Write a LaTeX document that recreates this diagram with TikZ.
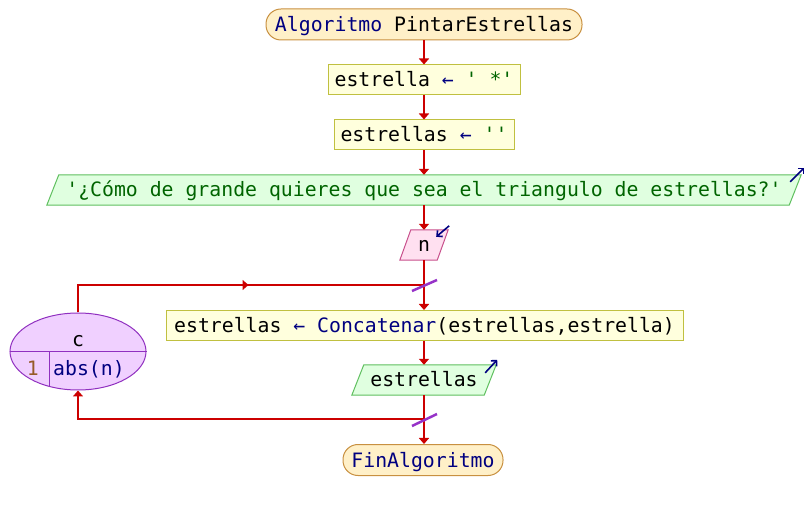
\documentclass[tikz,border=0pt]{standalone}
\usepackage{fontspec}
\setmonofont{DejaVu Sans Mono}
\usetikzlibrary{arrows.meta,shapes.geometric,calc,backgrounds,decorations.markings}
\definecolor{flowred}{RGB}{204,0,0}
\definecolor{kwblue}{RGB}{0,0,128}
\definecolor{strgreen}{RGB}{0,100,0}
\definecolor{numbrown}{RGB}{150,90,40}
\definecolor{termfill}{RGB}{255,240,200}
\definecolor{termline}{RGB}{200,144,64}
\definecolor{procfill}{RGB}{255,255,221}
\definecolor{procline}{RGB}{192,192,64}
\definecolor{outfill}{RGB}{224,255,224}
\definecolor{outline}{RGB}{96,192,96}
\definecolor{infill}{RGB}{255,224,240}
\definecolor{inline}{RGB}{200,80,140}
\definecolor{loopfill}{RGB}{240,208,255}
\definecolor{loopline}{RGB}{144,48,192}
\definecolor{slashcol}{RGB}{150,50,200}
\begin{document}
\begin{tikzpicture}[x=1pt,y=-1pt,
  font=\ttfamily\fontsize{19.8}{22}\selectfont,
  txt/.style={inner sep=0pt,text height=14pt,text depth=0pt},
  termbox/.style={txt,draw=termline,fill=termfill,line width=1pt,rounded corners=15pt,minimum height=31pt},
  procbox/.style={txt,draw=procline,fill=procfill,line width=1pt,minimum height=30pt},
  iobox/.style={txt,minimum height=30pt},
  outshape/.style={draw=outline,fill=outfill,line width=1pt},
  inshape/.style={draw=inline,fill=infill,line width=1pt},
  flow/.style={draw=flowred,line width=2pt},
  flowarrow/.style={flow,-{Triangle[length=6pt,width=10pt]}},
  ioarrow/.style={draw=kwblue,line width=1.6pt,-{Straight Barb[length=4pt,width=8pt]}},
  slash/.style={draw=slashcol,line width=2.5pt}
]
\useasboundingbox (0,0) rectangle (806,510);

% blocks
\node[termbox,minimum width=316pt] (start) at (424,24.5) {\textcolor{kwblue}{Algoritmo} PintarEstrellas};
\node[procbox,minimum width=192pt] (set1) at (424,80) {estrella \textcolor{kwblue}{←} \textcolor{strgreen}{' *'}};
\node[procbox,minimum width=180pt] (set2) at (424,135) {estrellas \textcolor{kwblue}{←} \textcolor{strgreen}{''}};
\node[iobox,minimum width=742pt] (ask) at (424,190) {};
\node[iobox,minimum width=37pt] (readn) at (424,245) {};
\node[procbox,minimum width=517pt] (concat) at (424.5,325.5) {estrellas \textcolor{kwblue}{← Concatenar}(estrellas,estrella)};
\node[iobox,minimum width=132pt] (show) at (424,380) {};
\node[termbox,minimum width=160pt] (stop) at (423,460) {\textcolor{kwblue}{FinAlgoritmo}};

% parallelograms for input / output
\begin{scope}[on background layer]
  \path[outshape] ([xshift=6pt]ask.north west) -- ([xshift=6pt]ask.north east)
     -- ([xshift=-6pt]ask.south east) -- ([xshift=-6pt]ask.south west) -- cycle;
  \path[inshape] ([xshift=5.5pt]readn.north west) -- ([xshift=5.5pt]readn.north east)
     -- ([xshift=-5.5pt]readn.south east) -- ([xshift=-5.5pt]readn.south west) -- cycle;
  \path[outshape] ([xshift=6pt]show.north west) -- ([xshift=6pt]show.north east)
     -- ([xshift=-6pt]show.south east) -- ([xshift=-6pt]show.south west) -- cycle;
\end{scope}
\node[txt] (asktxt) at (ask) {\textcolor{strgreen}{'¿Cómo de grande quieres que sea el triangulo de estrellas?'}};
\node[txt] (ntxt) at (readn) {n};
\node[txt] (showtxt) at (show) {estrellas};

% read / write markers
\draw[ioarrow] ([shift={(-5,7)}]ask.north east) -- ([shift={(9,-7)}]ask.north east);
\draw[ioarrow] ([shift={(6.5,-4)}]readn.north east) -- ([shift={(-6.5,7)}]readn.north east);
\draw[ioarrow] ([shift={(-5,8)}]show.north east) -- ([shift={(7,-5)}]show.north east);

% loop block
\node[ellipse,draw=loopline,fill=loopfill,line width=1pt,minimum width=136pt,minimum height=77pt,inner sep=0pt] (loop) at (78,351.5) {};
\draw[loopline,line width=1pt] (loop.west) -- (loop.east);
\draw[loopline,line width=1pt] ($(loop.center)+(-29,0)$) -- ++(0,34.5);
\node[anchor=base,inner sep=0pt] (lvar) at (78,347) {c};
\node[anchor=base east,inner sep=0pt] (lstep) at (39,376) {\textcolor{numbrown}{1}};
\node[anchor=base west,inner sep=0pt] (lend) at (53,376) {\textcolor{kwblue}{abs(n)}};

% loop junctions
\coordinate (jtop) at (424,285);
\coordinate (jbot) at (424,419);

% main flow
\draw[flowarrow] (start.south) -- (start.south |- set1.north);
\draw[flowarrow] (set1.south) -- (set1.south |- set2.north);
\draw[flowarrow] (set2.south) -- (set2.south |- ask.north);
\draw[flowarrow] (ask.south) -- (ask.south |- readn.north);
\draw[flowarrow] (readn.south) -- (readn.south |- concat.north);
\draw[flowarrow] (concat.south -| show.north) -- (show.north);
\draw[flowarrow] (show.south) -- (show.south |- stop.north);

% loop back edges
\draw[flow,postaction={decorate},decoration={markings,
   mark=at position 198pt with {\arrow{Triangle[length=6pt,width=10pt]}}}]
   (loop.north) |- (jtop);
\draw[flowarrow] (jbot) -| (loop.south);

% loop slashes
\draw[slash] ([shift={(-12,6)}]jtop) -- ([shift={(13,-5)}]jtop);
\draw[slash] ([shift={(-12,7)}]jbot) -- ([shift={(13,-5)}]jbot);
\end{tikzpicture}
\end{document}
